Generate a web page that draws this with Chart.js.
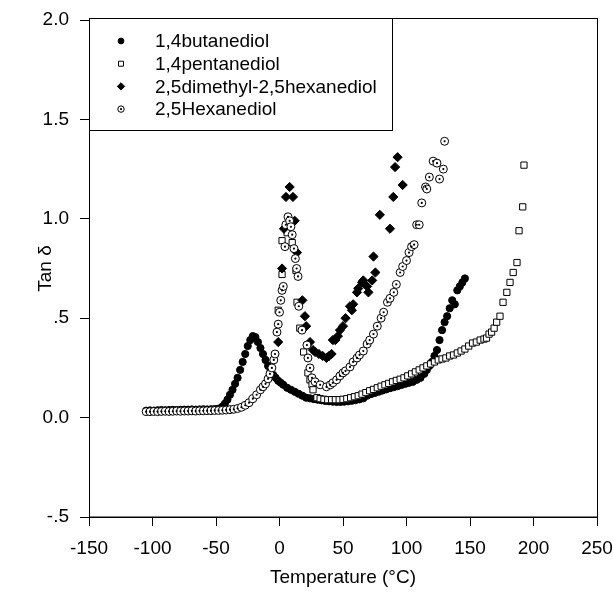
<!DOCTYPE html>
<html>
<head>
<meta charset="utf-8">
<script src="https://cdn.jsdelivr.net/npm/chart.js@4.4.0/dist/chart.umd.min.js"></script>
<style>
  body { margin: 0; background: #fff; }
  #wrap { width: 613px; height: 592px; }
</style>
</head>
<body>
<div id="wrap"><canvas id="tanChart" width="613" height="592"></canvas></div>
<script>
// Tan delta vs temperature for four diols

const seriesNames = ['1,4butanediol', '1,4pentanediol', '2,5dimethyl-2,5hexanediol', '2,5Hexanediol'];

const butanediolTemp = [-105, -102, -99, -96, -93, -90, -87, -84, -81, -78, -75, -72, -69, -66, -63, -60, -57, -54, -51, -48,
    -45, -43, -41, -39, -37, -35, -33, -31, -29, -27, -25, -23, -21, -19, -17, -15, -13, -11, -9, -7, -5, -3, -1, 1, 3,
    6, 9, 12, 15, 18, 21, 24, 27, 30, 33, 36, 39, 42, 45, 48, 51, 54, 57, 60, 63, 66, 69, 72, 75, 78, 81, 84, 87, 90,
    93, 96, 99, 102, 105, 108, 111, 114, 116, 118, 120, 122, 124, 126, 128, 130, 132, 134, 136, 138, 140, 142, 144, 146];
const butanediolTan = [0.035, 0.036, 0.035, 0.037, 0.038, 0.037, 0.038, 0.039, 0.038, 0.039, 0.040, 0.040, 0.041, 0.040, 0.041, 0.042, 0.041, 0.042, 0.043, 0.045,
    0.055, 0.07, 0.09, 0.115, 0.14, 0.17, 0.20, 0.24, 0.28, 0.32, 0.36, 0.39, 0.41, 0.405, 0.38, 0.35, 0.32, 0.29, 0.26, 0.235, 0.215, 0.20, 0.185, 0.175, 0.165,
    0.15, 0.14, 0.13, 0.12, 0.11, 0.10, 0.097, 0.093, 0.09, 0.087, 0.084, 0.082, 0.08, 0.079, 0.079, 0.08, 0.082, 0.085, 0.088, 0.092, 0.097, 0.11, 0.118, 0.124, 0.13, 0.136, 0.142, 0.148, 0.153,
    0.158, 0.164, 0.17, 0.175, 0.18, 0.19, 0.20, 0.22, 0.24, 0.26, 0.28, 0.31, 0.34, 0.39, 0.44, 0.48, 0.51, 0.55, 0.59, 0.57, 0.64, 0.66, 0.68, 0.70];

const pentanediolTemp = [-1, 2, 2, 6, 10, 13, 13.8, 16, 19, 22.4, 24, 25.6, 26.4, 29.5, 32, 35, 38, 41, 44, 47, 50, 53, 56, 59,
    62, 65, 68, 71, 74, 77, 80, 83, 86, 89, 92, 95, 98, 101, 104, 107, 110, 113, 116, 119, 122, 125, 128, 131, 134, 137,
    140, 143, 146, 149, 152, 155, 158, 161, 163, 165, 167, 169, 171, 173.6, 176, 179, 181.5, 184, 187, 188.6, 191.5, 192.5];
const pentanediolTan = [0.54, 0.72, 0.89, 0.93, 0.88, 0.74, 0.58, 0.45, 0.33, 0.225, 0.19, 0.165, 0.14, 0.10, 0.095, 0.092, 0.09, 0.09, 0.09, 0.09, 0.092, 0.095, 0.10, 0.105,
    0.11, 0.118, 0.126, 0.135, 0.142, 0.15, 0.158, 0.165, 0.172, 0.18, 0.187, 0.193, 0.20, 0.21, 0.22, 0.23, 0.24, 0.25, 0.26, 0.27, 0.28, 0.29, 0.295, 0.30, 0.31, 0.315,
    0.325, 0.335, 0.345, 0.36, 0.375, 0.38, 0.39, 0.395, 0.40, 0.42, 0.43, 0.45, 0.48, 0.51, 0.58, 0.63, 0.68, 0.73, 0.78, 0.94, 1.06, 1.27];

const dimethylTemp = [-1, 2, 3.5, 5.1, 8, 10.6, 12, 13.8, 18, 20, 21, 24, 26.4, 28, 31, 34, 37, 39, 41, 42, 44, 46, 47.6, 50,
    52, 55.5, 57, 58, 61, 62, 65, 66, 69, 70, 73, 74, 75.5, 79, 87, 89.6, 91, 93, 97];
const dimethylTan = [0.38, 0.75, 0.95, 1.11, 1.16, 1.11, 0.99, 0.83, 0.59, 0.51, 0.46, 0.38, 0.34, 0.33, 0.32, 0.31, 0.30, 0.31, 0.32, 0.39, 0.39, 0.41, 0.44, 0.46,
    0.50, 0.56, 0.54, 0.57, 0.63, 0.65, 0.68, 0.69, 0.66, 0.63, 0.69, 0.81, 0.73, 1.02, 0.95, 1.11, 1.26, 1.31, 1.17];

const hexanediolTemp = [-105, -102, -99, -96, -93, -90, -87, -84, -81, -78, -75, -72, -69, -66, -63, -60, -57, -54, -51, -48,
    -45, -42, -39, -36, -33, -30, -27, -24, -21, -18, -15, -13, -11, -9, -7.5, -6, -4.5, -3.5, -2, -1, 0, 1, 2, 3, 4.3, 5,
    6.7, 8, 9, 10, 11.4, 12.5, 13.5, 14.6, 15.2, 17.7, 21.6, 22.4, 24, 25.6, 28, 32, 37, 40, 42, 45, 47.6, 50, 52, 55.5,
    58, 61, 63, 66, 69, 71, 74, 77, 80, 82, 85, 87, 90, 92, 95, 97, 100, 102, 104, 106, 108, 110, 112, 115, 116, 118,
    121, 124, 126, 129, 130];
const hexanediolTan = [0.030, 0.030, 0.031, 0.030, 0.031, 0.032, 0.031, 0.032, 0.033, 0.032, 0.033, 0.033, 0.034, 0.033, 0.034, 0.034, 0.035, 0.035, 0.036, 0.036,
    0.037, 0.038, 0.040, 0.042, 0.046, 0.052, 0.062, 0.075, 0.095, 0.115, 0.14, 0.155, 0.17, 0.195, 0.22, 0.25, 0.29, 0.32, 0.43, 0.47, 0.53, 0.59, 0.64, 0.66, 0.86, 0.97,
    1.01, 0.99, 0.96, 0.92, 0.85, 0.80, 0.75, 0.71, 0.56, 0.44, 0.365, 0.30, 0.25, 0.20, 0.18, 0.165, 0.155, 0.165, 0.175, 0.19, 0.21, 0.225, 0.235, 0.255,
    0.28, 0.30, 0.315, 0.335, 0.37, 0.39, 0.42, 0.46, 0.50, 0.53, 0.58, 0.60, 0.63, 0.67, 0.73, 0.76, 0.79, 0.83, 0.86, 0.87, 0.97, 0.97, 1.08, 1.16, 1.15, 1.21,
    1.29, 1.28, 1.20, 1.25, 1.39];

const xTicks = [-150, -100, -50, 0, 50, 100, 150, 200, 250];
const yTickLabels = ['-.5', '0.0', '.5', '1.0', '1.5', '2.0'];

const FONT = "'Liberation Sans', Arial, sans-serif";
const DOTTED = 3; // index of the dataset drawn as circles with a centre dot

function pairs(xs, ys) {
    return xs.map((x, i) => ({ x: x, y: ys[i] }));
}

function centreDot(ctx, x, y) {
    ctx.beginPath();
    ctx.arc(x, y, 1.1, 0, Math.PI * 2);
    ctx.fillStyle = '#000';
    ctx.fill();
}

// dots inside the open circles of the 2,5Hexanediol series
const dotPlugin = {
    id: 'centreDots',
    afterDatasetDraw(chart, args) {
        if (args.index !== DOTTED) return;
        const ctx = chart.ctx;
        ctx.save();
        args.meta.data.forEach(pt => centreDot(ctx, pt.x, pt.y));
        ctx.restore();
    }
};

// frame + boxed legend inside the plot
const framePlugin = {
    id: 'frame',
    afterDatasetsDraw(chart) {
        const { ctx, chartArea: a } = chart;
        ctx.save();
        ctx.strokeStyle = '#000';
        ctx.lineWidth = 1;
        ctx.strokeRect(a.left + 0.5, a.top - 1.5, a.right - a.left, a.bottom - a.top + 1.5);

        const bx = a.left + 0.5, by = a.top - 1.5, bw = 303, bh = 112;
        ctx.fillStyle = '#fff';
        ctx.fillRect(bx, by, bw, bh);
        ctx.strokeRect(bx, by, bw, bh);

        ctx.font = '19px ' + FONT;
        ctx.textBaseline = 'middle';
        ctx.textAlign = 'left';
        chart.data.datasets.forEach((ds, i) => {
            const y = a.top + 21 + i * 22.7;
            const mx = a.left + 32;
            ctx.strokeStyle = '#000';
            ctx.fillStyle = ds.pointBackgroundColor;
            ctx.lineWidth = 1;
            Chart.helpers.drawPoint(ctx, { pointStyle: ds.pointStyle, radius: ds.pointRadius * 0.8, borderWidth: 1, rotation: 0 }, mx, y);
            if (i === DOTTED) centreDot(ctx, mx, y);
            ctx.fillStyle = '#000';
            ctx.fillText(ds.label, a.left + 66, y + 1);
        });
        ctx.restore();
    }
};

const ctx = document.getElementById('tanChart');
new Chart(ctx.getContext('2d'), {
    type: 'scatter',
    data: {
        datasets: [{
            label: seriesNames[0],
            data: pairs(butanediolTemp, butanediolTan),
            pointStyle: 'circle',
            pointRadius: 3.6,
            pointBackgroundColor: '#000',
            pointBorderColor: '#000',
            pointBorderWidth: 1,
            order: 4
        }, {
            label: seriesNames[1],
            data: pairs(pentanediolTemp, pentanediolTan),
            pointStyle: 'rect',
            pointRadius: 4.4,
            pointBackgroundColor: '#fff',
            pointBorderColor: '#000',
            pointBorderWidth: 1,
            order: 3
        }, {
            label: seriesNames[2],
            data: pairs(dimethylTemp, dimethylTan),
            pointStyle: 'rectRot',
            pointRadius: 4.6,
            pointBackgroundColor: '#000',
            pointBorderColor: '#000',
            pointBorderWidth: 1,
            order: 2
        }, {
            label: seriesNames[3],
            data: pairs(hexanediolTemp, hexanediolTan),
            pointStyle: 'circle',
            pointRadius: 4,
            pointBackgroundColor: '#fff',
            pointBorderColor: '#000',
            pointBorderWidth: 1,
            order: 1
        }]
    },
    options: {
        responsive: false,
        animation: false,
        layout: { padding: { top: 20, right: 16, left: 0, bottom: 0 } },
        plugins: {
            legend: { display: false },
            tooltip: { enabled: false }
        },
        scales: {
            x: {
                type: 'linear',
                min: -150,
                max: 250,
                afterFit(scale) {
                    scale.height = 75;
                    scale.paddingLeft = 0;
                    scale.paddingRight = 0;
                },
                afterBuildTicks(scale) { scale.ticks = xTicks.map(v => ({ value: v })); },
                grid: { drawOnChartArea: false, drawTicks: true, tickLength: 9, color: '#000' },
                border: { display: true, color: '#000', width: 1 },
                ticks: {
                    color: '#000',
                    padding: 11,
                    maxRotation: 0,
                    font: { family: FONT, size: 19 },
                    callback: v => String(v)
                },
                title: {
                    display: true,
                    text: 'Temperature (°C)',
                    color: '#000',
                    font: { family: FONT, size: 19 },
                    padding: { top: 0, bottom: 3 }
                }
            },
            y: {
                type: 'linear',
                min: -0.5,
                max: 2.0,
                afterFit(scale) {
                    scale.width = 89;
                    scale.paddingTop = 0;
                    scale.paddingBottom = 0;
                },
                grid: { drawOnChartArea: false, drawTicks: true, tickLength: 9, color: '#000' },
                border: { display: true, color: '#000', width: 1 },
                ticks: {
                    stepSize: 0.5,
                    color: '#000',
                    padding: 11,
                    font: { family: FONT, size: 19 },
                    callback: (v, i) => yTickLabels[i]
                },
                title: {
                    display: true,
                    text: 'Tan δ',
                    color: '#000',
                    font: { family: FONT, size: 19 },
                    padding: { top: 34, bottom: 0 }
                }
            }
        }
    },
    plugins: [dotPlugin, framePlugin]
});
</script>
</body>
</html>
